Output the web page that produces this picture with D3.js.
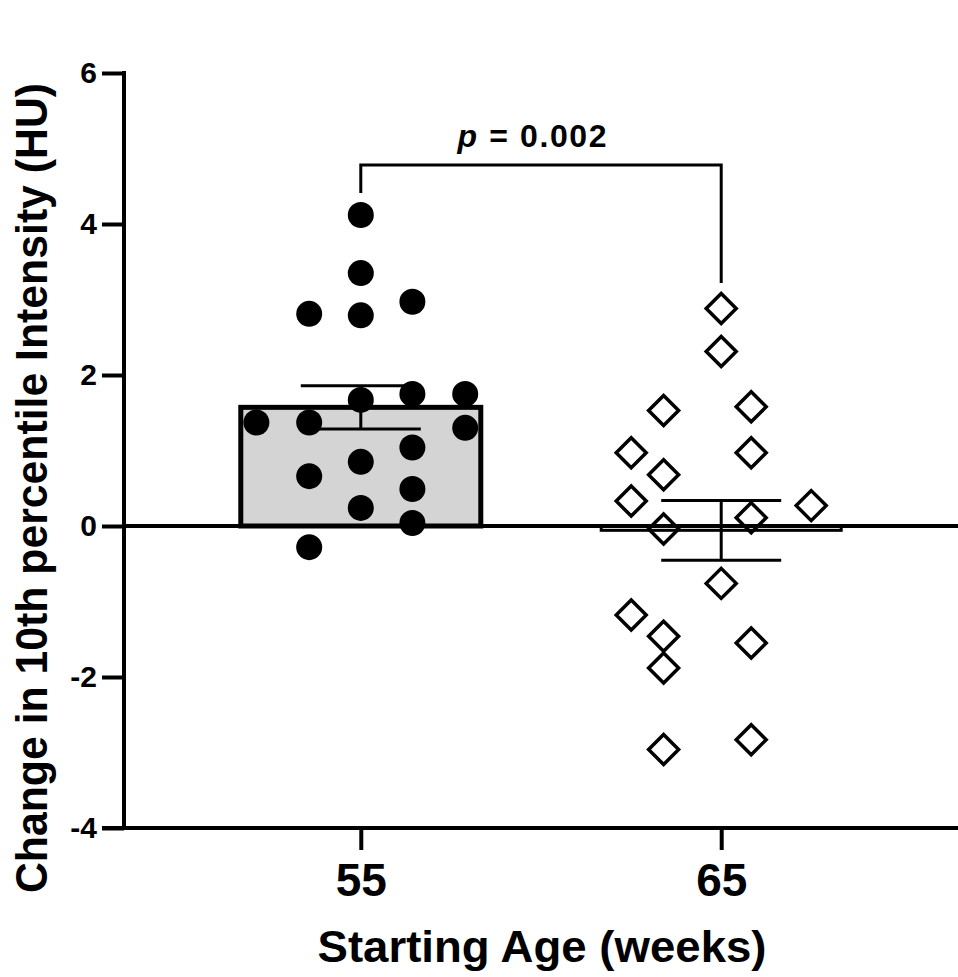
<!DOCTYPE html>
<html>
<head>
<meta charset="utf-8">
<script src="https://cdn.jsdelivr.net/npm/d3@7"></script>
<style>
  body { margin: 0; background: #fff; }
  svg { display: block; }
  text { font-family: "Liberation Sans", Arial, Helvetica, sans-serif; font-weight: bold; fill: #000; }
</style>
</head>
<body>
<div id="chart"></div>
<script>
// === DATA ===
const categories = ['55', '65']
const yTicks = [-4, -2, 0, 2, 4, 6]

// change in 10th percentile intensity (HU)
const values55 = [4.12, 3.35, 2.81, 2.79, 2.97, 1.67, 1.75, 1.75, 1.37, 1.37, 1.30, 1.04, 0.85, 0.66, 0.49, 0.24, 0.04, -0.28]
const jitter55 = [0, 0, -0.43, 0, 0.43, 0, 0.43, 0.87, -0.87, -0.43, 0.87, 0.43, 0, -0.43, 0.43, 0, 0.43, -0.43]

const values65 = [2.88, 2.31, 1.53, 1.58, 0.97, 0.97, 0.68, 0.33, 0.27, -0.04, 0.11, -0.76, -1.18, -1.46, -1.55, -1.88, -2.96, -2.83]
const jitter65 = [0, 0, -0.48, 0.25, -0.75, 0.25, -0.48, -0.75, 0.75, -0.48, 0.25, 0, -0.75, -0.48, 0.25, -0.48, -0.48, 0.25]

const pLabel = '0.002'

// === LAYOUT ===
const W = 958, H = 977
const mLeft = 124, mRight = 958, mTop = 73, mBottom = 828

const svg = d3.select('#chart').append('svg')
    .attr('width', W)
    .attr('height', H)

const x = d3.scalePoint().domain(categories).range([mLeft, mRight]).padding(0.657)
const y = d3.scaleLinear().domain([-4, 6]).range([mBottom, mTop])
const barHalf = 120
const jx = d3.scaleLinear().domain([-1, 1]).range([-barHalf, barHalf])

const groups = [
    { cat: '55', values: values55, jitter: jitter55, shape: 'circle' },
    { cat: '65', values: values65, jitter: jitter65, shape: 'diamond' }
]
groups.forEach(g => {
    g.mean = d3.mean(g.values)
    g.sem = d3.deviation(g.values) / Math.sqrt(g.values.length)
})

// bars
svg.append('g').selectAll('rect')
    .data(groups)
    .join('rect')
    .attr('x', d => x(d.cat) - barHalf)
    .attr('width', barHalf * 2)
    .attr('y', d => y(Math.max(0, d.mean)))
    .attr('height', d => Math.abs(y(d.mean) - y(0)))
    .attr('fill', d => d.mean > 0 ? '#d4d4d4' : 'none')
    .attr('stroke', '#000')
    .attr('stroke-width', d => d.mean > 0 ? 5 : 3)

// axes
const yAxis = d3.axisLeft(y).tickValues(yTicks).tickSize(22).tickFormat(d => String(d))
const gy = svg.append('g').attr('transform', `translate(${mLeft},0)`).call(yAxis)
gy.select('.domain').attr('stroke-width', 4).attr('d', `M0,${mTop - 2}V${mBottom + 2}`)
gy.selectAll('.tick line').attr('stroke-width', 4)
gy.selectAll('.tick text')
    .attr('font-size', 30)
    .attr('font-family', null)
    .attr('x', -27)

const xAxis = d3.axisBottom(x).tickSize(22).tickSizeOuter(0)
const gx = svg.append('g').attr('transform', `translate(0,${mBottom})`).call(xAxis)
gx.select('.domain').attr('stroke-width', 4).attr('d', `M${mLeft - 22},0H${mRight}`)
gx.selectAll('.tick line').attr('stroke-width', 4)
gx.selectAll('.tick text')
    .attr('font-size', 46)
    .attr('y', 68)
    .attr('dy', 0)

svg.selectAll('.tick text').attr('font-family', null).attr('fill', '#000')
svg.selectAll('g[font-family]').attr('font-family', null)

// zero line
svg.append('line')
    .attr('x1', mLeft).attr('x2', mRight)
    .attr('y1', y(0)).attr('y2', y(0))
    .attr('stroke', '#000')
    .attr('stroke-width', 4)

// error bars (mean +/- SEM)
const eb = svg.append('g').attr('stroke', '#000').attr('stroke-width', 3)
groups.forEach(g => {
    const cx = x(g.cat)
    eb.append('line').attr('x1', cx).attr('x2', cx).attr('y1', y(g.mean + g.sem)).attr('y2', y(g.mean - g.sem))
    eb.append('line').attr('x1', cx - 60).attr('x2', cx + 60).attr('y1', y(g.mean + g.sem)).attr('y2', y(g.mean + g.sem))
    eb.append('line').attr('x1', cx - 60).attr('x2', cx + 60).attr('y1', y(g.mean - g.sem)).attr('y2', y(g.mean - g.sem))
})

// points
groups.forEach(g => {
    const pts = g.values.map((v, i) => ({ v, j: g.jitter[i] }))
    const sel = svg.append('g').selectAll('path')
        .data(pts)
        .join('path')
        .attr('transform', d => `translate(${x(g.cat) + jx(d.j)},${y(d.v)})`)
    if (g.shape === 'circle') {
        sel.attr('d', d3.symbol(d3.symbolCircle, Math.PI * 13 * 13))
            .attr('fill', '#000')
    } else {
        sel.attr('d', 'M0,-15L15,0L0,15L-15,0Z')
            .attr('fill', 'none')
            .attr('stroke', '#000')
            .attr('stroke-width', 3.5)
            .attr('stroke-linejoin', 'miter')
    }
})

// significance bracket
const bY = 165
svg.append('path')
    .attr('d', `M${x('55')},${bY + 28}V${bY}H${x('65')}V${bY + 118}`)
    .attr('fill', 'none')
    .attr('stroke', '#000')
    .attr('stroke-width', 3)

const pt = svg.append('text')
    .attr('x', 532)
    .attr('y', 147)
    .attr('text-anchor', 'middle')
    .attr('font-size', 32)
    .attr('textLength', 149)
    .attr('lengthAdjust', 'spacing')
pt.append('tspan').attr('font-style', 'italic').text('p')
pt.append('tspan').text(` = ${pLabel}`)

// axis titles
svg.append('text')
    .attr('transform', `translate(47,488) rotate(-90)`)
    .attr('text-anchor', 'middle')
    .attr('font-size', 45)
    .attr('textLength', 810)
    .attr('lengthAdjust', 'spacingAndGlyphs')
    .text('Change in 10th percentile Intensity (HU)')

svg.append('text')
    .attr('x', 542)
    .attr('y', 962)
    .attr('text-anchor', 'middle')
    .attr('font-size', 44)
    .attr('textLength', 449)
    .attr('lengthAdjust', 'spacingAndGlyphs')
    .text('Starting Age (weeks)')
</script>
</body>
</html>
